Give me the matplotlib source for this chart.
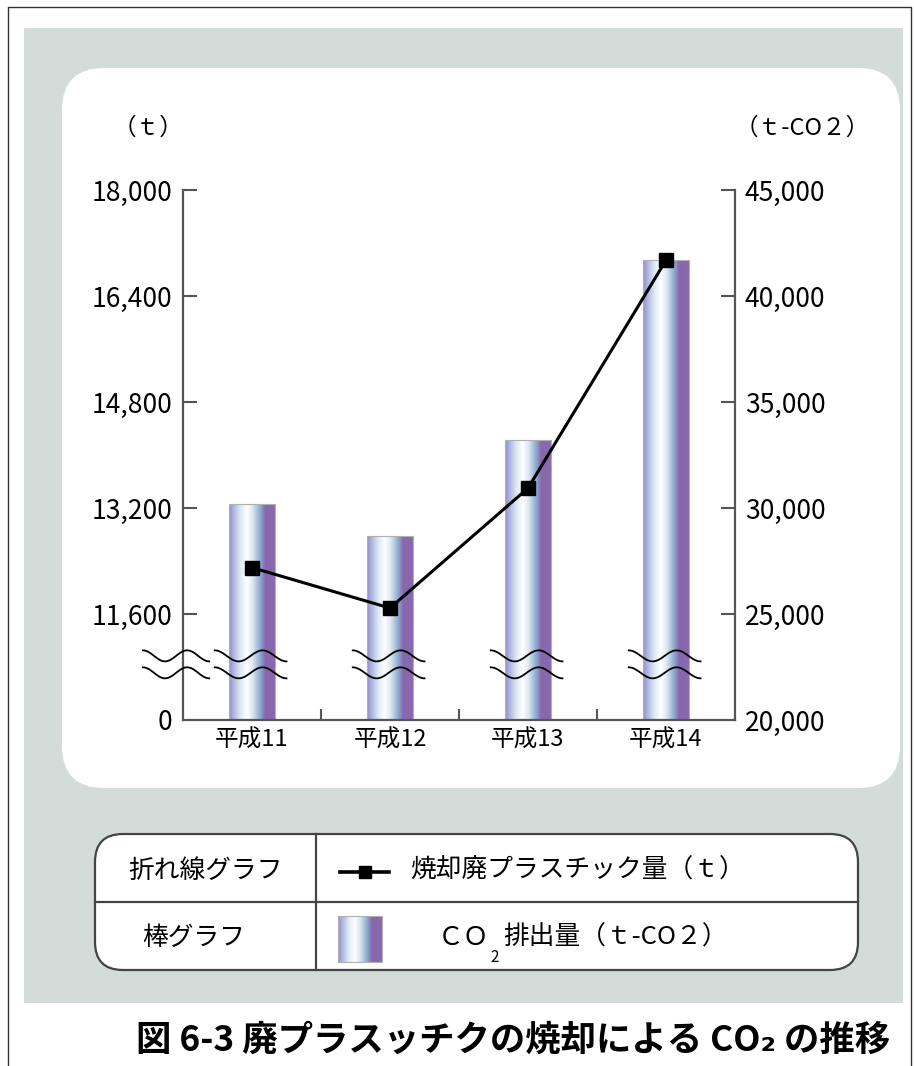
import numpy as np
import matplotlib
matplotlib.use("Agg")
from matplotlib import pyplot as plt
from matplotlib.patches import Rectangle, FancyBboxPatch
from matplotlib.colors import LinearSegmentedColormap
from matplotlib.transforms import blended_transform_factory

plt.rcParams['font.family'] = ['Noto Sans CJK JP', 'DejaVu Sans']

# data
years = ['平成11', '平成12', '平成13', '平成14']
co2 = [30200, 28700, 33200, 41700]          # bars, right axis (t-CO2)
waste = [12300, 11690, 13500, 16940]        # line, left axis (t)

left_ticks = [10000, 11600, 13200, 14800, 16400, 18000]
left_labels = ['0', '11,600', '13,200', '14,800', '16,400', '18,000']
right_ticks = [20000, 25000, 30000, 35000, 40000, 45000]
right_labels = ['20,000', '25,000', '30,000', '35,000', '40,000', '45,000']

W, H = 914, 1066
fig = plt.figure(figsize=(W / 100, H / 100), dpi=100)
fig.patch.set_facecolor('white')

# background layer in pixel coords
bg = fig.add_axes([0, 0, 1, 1], zorder=0)
bg.set_xlim(0, W)
bg.set_ylim(H, 0)
bg.axis('off')

bg.plot([8, 8, 911, 911], [H, 7, 7, H], color='#333333', lw=1)
bg.add_patch(Rectangle((24, 28), 879, 975, color='#d4dcda', lw=0))
bg.add_patch(FancyBboxPatch((62, 68), 838, 720, boxstyle='round,pad=0,rounding_size=42',
                            fc='white', ec='none'))

# legend table
bg.add_patch(FancyBboxPatch((95, 834), 763, 136, boxstyle='round,pad=0,rounding_size=28',
                            fc='white', ec='#444444', lw=1.6))
bg.plot([316, 316], [834, 970], color='#444444', lw=1.6)
bg.plot([95, 858], [902, 902], color='#444444', lw=1.6)

grad_cmap = LinearSegmentedColormap.from_list('bar', [
    (0.0, '#8e8ec6'), (0.08, '#a9aedc'), (0.24, '#dde9f4'), (0.38, '#ffffff'),
    (0.50, '#dce8f2'), (0.68, '#86a5cb'), (0.74, '#8c7ab9'), (0.77, '#8868ad'),
    (1.0, '#8a6aae')])
grad = np.linspace(0, 1, 256).reshape(1, -1)

bg.text(206, 871, '折れ線グラフ', ha='center', va='center', fontsize=18.5)
bg.text(194, 938, '棒グラフ', ha='center', va='center', fontsize=18.5)
bg.plot([340, 364.5, 389], [872, 872, 872], color='black', lw=2.6,
        marker='s', ms=9, markevery=[1])
bg.text(410, 871, '焼却廃プラスチック量（ｔ）', ha='left', va='center', fontsize=18.5)
bg.imshow(grad, extent=[338, 382, 962, 916], aspect='auto', cmap=grad_cmap, zorder=3)
bg.add_patch(Rectangle((338, 916), 44, 46, fc='none', ec='#b0b0b0', lw=0.8, zorder=4))
bg.text(438, 938, 'ＣＯ', ha='left', va='center', fontsize=18.5)
bg.text(490, 957, '2', ha='left', va='center', fontsize=11)
bg.text(503, 938, '排出量（ｔ-CO２）', ha='left', va='center', fontsize=18.5)
bg.set_xlim(0, W)
bg.set_ylim(H, 0)

# unit labels and caption
bg.text(148, 128, '（ｔ）', ha='center', va='center', fontsize=17)
bg.text(802, 128, '（ｔ-CO２）', ha='center', va='center', fontsize=17)
bg.text(513, 1040, '図 6-3 廃プラスッチクの焼却による CO₂ の推移', ha='center',
        va='center', fontsize=25.5, fontweight='bold')

# main chart
ax = fig.add_axes([183 / W, 346 / H, 552 / W, 530 / H], zorder=1)
ax.patch.set_visible(False)
ax2 = ax.twinx()
ax2.set_zorder(2)

x = np.arange(len(years))
bars = ax.bar(x, co2, width=0.34, fc='none', ec='#b0b0b0', lw=0.8, zorder=2)
for b in bars:
    im = ax.imshow(grad, extent=[b.get_x(), b.get_x() + b.get_width(), 20000, b.get_height()],
                   aspect='auto', cmap=grad_cmap, zorder=1)
    im.set_clip_path(b)
ax.set_xlim(-0.5, 3.5)
ax.set_ylim(20000, 45000)

ax2.plot(x, waste, color='black', lw=2.2, marker='s', ms=9.5, zorder=5)
ax2.set_ylim(10000, 18000)

# axes styling
for s in ['left', 'right', 'bottom']:
    ax.spines[s].set_color('#555555')
    ax.spines[s].set_linewidth(1.6)
ax.spines['top'].set_visible(False)
for s in ax2.spines.values():
    s.set_visible(False)

ax.yaxis.tick_right()
ax.set_yticks(right_ticks, labels=right_labels)
ax.tick_params(axis='y', direction='in', length=10, width=1.5, color='#555555',
               pad=7, labelsize=19, right=True, left=False)
ax.yaxis.get_major_ticks()[0].tick2line.set_visible(False)

ax2.yaxis.tick_left()
ax2.set_yticks(left_ticks, labels=left_labels)
ax2.tick_params(axis='y', direction='in', length=10, width=1.5, color='#555555',
                pad=8, labelsize=19, left=True, right=False)
ax2.yaxis.get_major_ticks()[0].tick1line.set_visible(False)

ax.set_xticks(x, labels=years)
ax.tick_params(axis='x', which='major', length=0, pad=6, labelsize=17)
ax.set_xticks([0.5, 1.5, 2.5], minor=True)
ax.tick_params(axis='x', which='minor', direction='in', length=8, width=1.5, color='#555555')

# break marks
trans = blended_transform_factory(ax2.transData, ax2.transAxes)
t = np.linspace(0, 1, 60)
wave = 0.0104 * np.cos(3 * np.pi * t)
for yc in [0.121, 0.089]:
    ax2.plot(-0.79 + 0.48 * t, yc + wave, color='black', lw=1.3, transform=trans,
             clip_on=False, zorder=6)
    for xc in x:
        ax2.plot(xc - 0.27 + 0.52 * t, yc + wave, color='black', lw=1.3, transform=trans,
                 clip_on=False, zorder=6)

fig.savefig('out.png', dpi=100)
